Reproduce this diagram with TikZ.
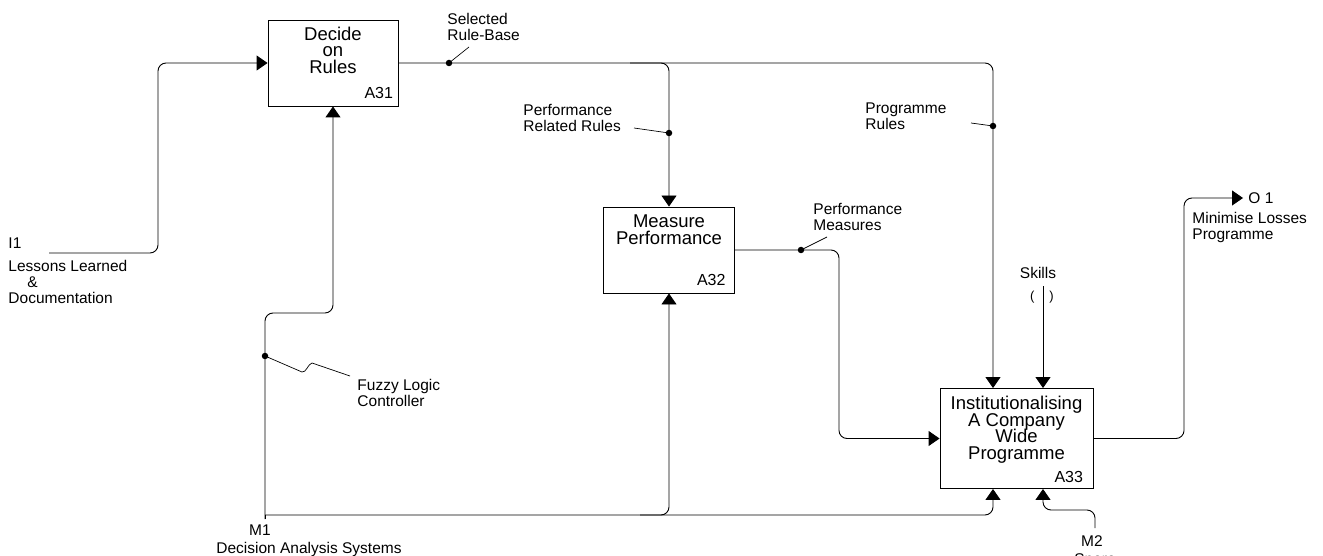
\documentclass[tikz,border=0pt]{standalone}
\usepackage{fontspec}
\setmainfont{Liberation Sans}
\usetikzlibrary{arrows.meta}
\AtBeginDocument{\lineskiplimit=-20pt\relax}
\begin{document}
\begin{tikzpicture}[x=1pt,y=-1pt,
  line width=0.9pt,
  box/.style={draw, rectangle, inner sep=0pt},
  ttl/.style={font=\fontsize{18.5}{16.5}\selectfont, align=center, inner sep=0pt, anchor=north},
  lbl/.style={font=\fontsize{15.5}{16}\selectfont, align=left, inner sep=0pt, anchor=north west},
  idl/.style={font=\fontsize{16}{16}\selectfont, inner sep=0pt, anchor=base east},
  arr/.style={-{Triangle[length=11pt,width=15pt]}},
  wire/.style={rounded corners=8pt},
  dotc/.style={circle, fill, inner sep=0pt, minimum size=6.5pt},
  lead/.style={line width=0.7pt}
]
\useasboundingbox (0,0) rectangle (1323,556);
\clip (0,0) rectangle (1323,556);

% boxes
\node[box, minimum width=130pt, minimum height=86pt] (A31) at (333,63) {};
\node[box, minimum width=131pt, minimum height=86pt] (A32) at (669,250) {};
\node[box, minimum width=153pt, minimum height=100pt] (A33) at (1016.5,438.5) {};

\node[ttl] (A31t) at ([yshift=-7pt]A31.north) {Decide\\on\\Rules};
\node[ttl] (A32t) at ([yshift=-8pt]A32.north) {Measure\\Performance};
\node[ttl] (A33t) at ([yshift=-8pt]A33.north) {Institutionalising\\A Company\\Wide\\Programme};

\node[idl] (A31id) at ([xshift=-5pt,yshift=8pt]A31.south east) {A31};
\node[idl] (A32id) at ([xshift=-9pt,yshift=8pt]A32.south east) {A32};
\node[idl] (A33id) at ([xshift=-10pt,yshift=6pt]A33.south east) {A33};

% helper coordinates
\coordinate (i1) at (49,253);
\coordinate (m1) at (265,519);
\coordinate (bl) at (265,515);
\coordinate (m2) at (1095,528);
\coordinate (o1) at (1243,198);
\coordinate (sk) at (1043,286);
\coordinate (x993) at (993,0);
\coordinate (x839) at (839,0);

% connectors
\draw[wire,arr] (i1) -- (158,253) -- (158,63) -- (A31.west);
\draw[wire,arr] (A31.east) -- (x993 |- A31.east) -- (x993 |- A33.north);
\draw[wire,arr] (630,63) -- (A32.north |- A31.east) -- (A32.north);
\draw[wire,arr] (A32.east) -- (x839 |- A32.east) -- (x839 |- A33.west) -- (A33.west);
\draw[wire,arr] (m1) -- (265,313) -- (333,313) -- (A31.south);
\draw (m1) -- (bl);
\draw[wire,arr] (bl) -- (x993 |- bl) -- (x993 |- A33.south);
\draw[wire,arr] (640,515) -- (A32.south |- bl) -- (A32.south);
\draw[wire,arr] (m2) -- (1095,510) -- (1043,510) -- (sk |- A33.south);
\draw[arr] (sk) -- (sk |- A33.north);
\draw[wire,arr] (A33.east) -- (1184,438.5) -- (1184,198) -- (o1);

% junction dots
\node[dotc] (dSel) at (449,63) {};
\node[dotc] (dPRR) at (669,133) {};
\node[dotc] (dPR) at (993,126) {};
\node[dotc] (dPM) at (801,250) {};
\node[dotc] (dFL) at (265,356) {};

% leaders
\draw[lead] (dSel.center) -- (469,47);
\draw[lead] (634,128) -- (dPRR.center);
\draw[lead] (971,123) -- (dPR.center);
\draw[lead] (dPM.center) -- (827,237);
\draw[lead] (dFL.center) -- (302,372) .. controls (306,373) and (308,364) .. (312,363) -- (350,376);

% labels
\node[lbl] (lSel) at (447,13) {Selected\\Rule-Base};
\node[lbl] (lPRR) at (523,104) {Performance\\Related Rules};
\node[lbl] (lPR) at (865,102) {Programme\\Rules};
\node[lbl] (lPM) at (813,203) {Performance\\Measures};
\node[lbl] (lFL) at (357,379) {Fuzzy Logic\\Controller};
\node[lbl] (lI1) at (8,237) {I1};
\node[lbl] (lLL) at (8,260) {Lessons Learned\\\hspace*{19pt}\&\\Documentation};
\node[lbl] (lMin) at (1192,212) {Minimise Losses\\Programme};
\node[lbl, anchor=west] (lO1) at (1248,198) {O 1};
\node[lbl, anchor=center] (lM1) at (260,530) {M1};
\node[lbl, anchor=center] (lDAS) at (309,549) {Decision Analysis Systems};
\node[lbl, anchor=center] (lM2) at (1092,541) {M2};
\node[lbl, anchor=north] (lSp) at (1095,553) {Spare};
\node[lbl, anchor=center] (lSk) at (1038,273) {Skills};
\node[font=\fontsize{13}{13}\selectfont, inner sep=0pt] (par) at (1042,297) {(\hspace{15pt})};
\end{tikzpicture}
\end{document}
